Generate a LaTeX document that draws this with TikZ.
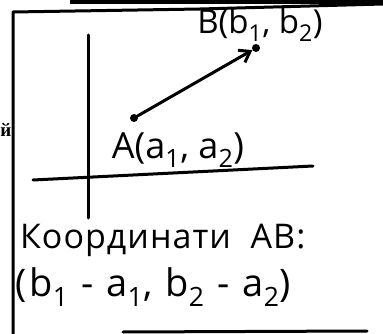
\documentclass[tikz,border=0pt]{standalone}
\usepackage{fontspec}
\setmainfont{Open Sans}
\newfontfamily\cutfont{Liberation Serif}
\usetikzlibrary{arrows.meta}
\begin{document}
\begin{tikzpicture}[x=1pt,y=-1pt,line cap=round,line join=round,
  hand/.style={line width=3pt},
  dot/.style={circle,fill,inner sep=0pt,minimum size=8pt},
  lbl/.style={inner sep=0pt,font=\fontsize{33}{36}\selectfont}]
\useasboundingbox (0,0) rectangle (383,334);
% frame
\fill (70,0) rectangle (383,4);
\draw[hand] (13,334) -- (13,12) -- (200,9) -- (383,4);
\draw[hand] (123,332) -- (367,331);
% axes
\coordinate (xl) at (33,180);
\coordinate (xr) at (313,166);
\coordinate (yt) at (88,35);
\coordinate (yb) at (88,218);
\draw[hand] (xl) -- (xr);
\draw[hand] (yt) -- (yb);
% vector AB
\node[dot] (ptA) at (134,118) {};
\node[dot] (ptB) at (256,48) {};
\draw[hand,-{Straight Barb[length=10pt,width=14pt]}] (ptA) -- (ptB);
\node[lbl] (labelB) at (260,25) {B(b\textsubscript{1}, b\textsubscript{2})};
\node[lbl,font=\fontsize{36}{40}\selectfont] (labelA) at (178,150) {A(a\textsubscript{1}, a\textsubscript{2})};
% text below
\node[lbl,anchor=west,font=\fontsize{34}{38}\selectfont\addfontfeature{LetterSpace=3}] (title) at (20,240) {Координати\ \ AB:};
\node[lbl,anchor=west,font=\fontsize{38}{42}\selectfont\addfontfeature{LetterSpace=8}] (formula) at (15,287) {(b\textsubscript{1} - a\textsubscript{1}, b\textsubscript{2} - a\textsubscript{2})};
\node[anchor=east,inner sep=0pt,font=\cutfont\bfseries\fontsize{19}{19}\selectfont] (cut) at (11.5,130) {й};
\end{tikzpicture}
\end{document}
